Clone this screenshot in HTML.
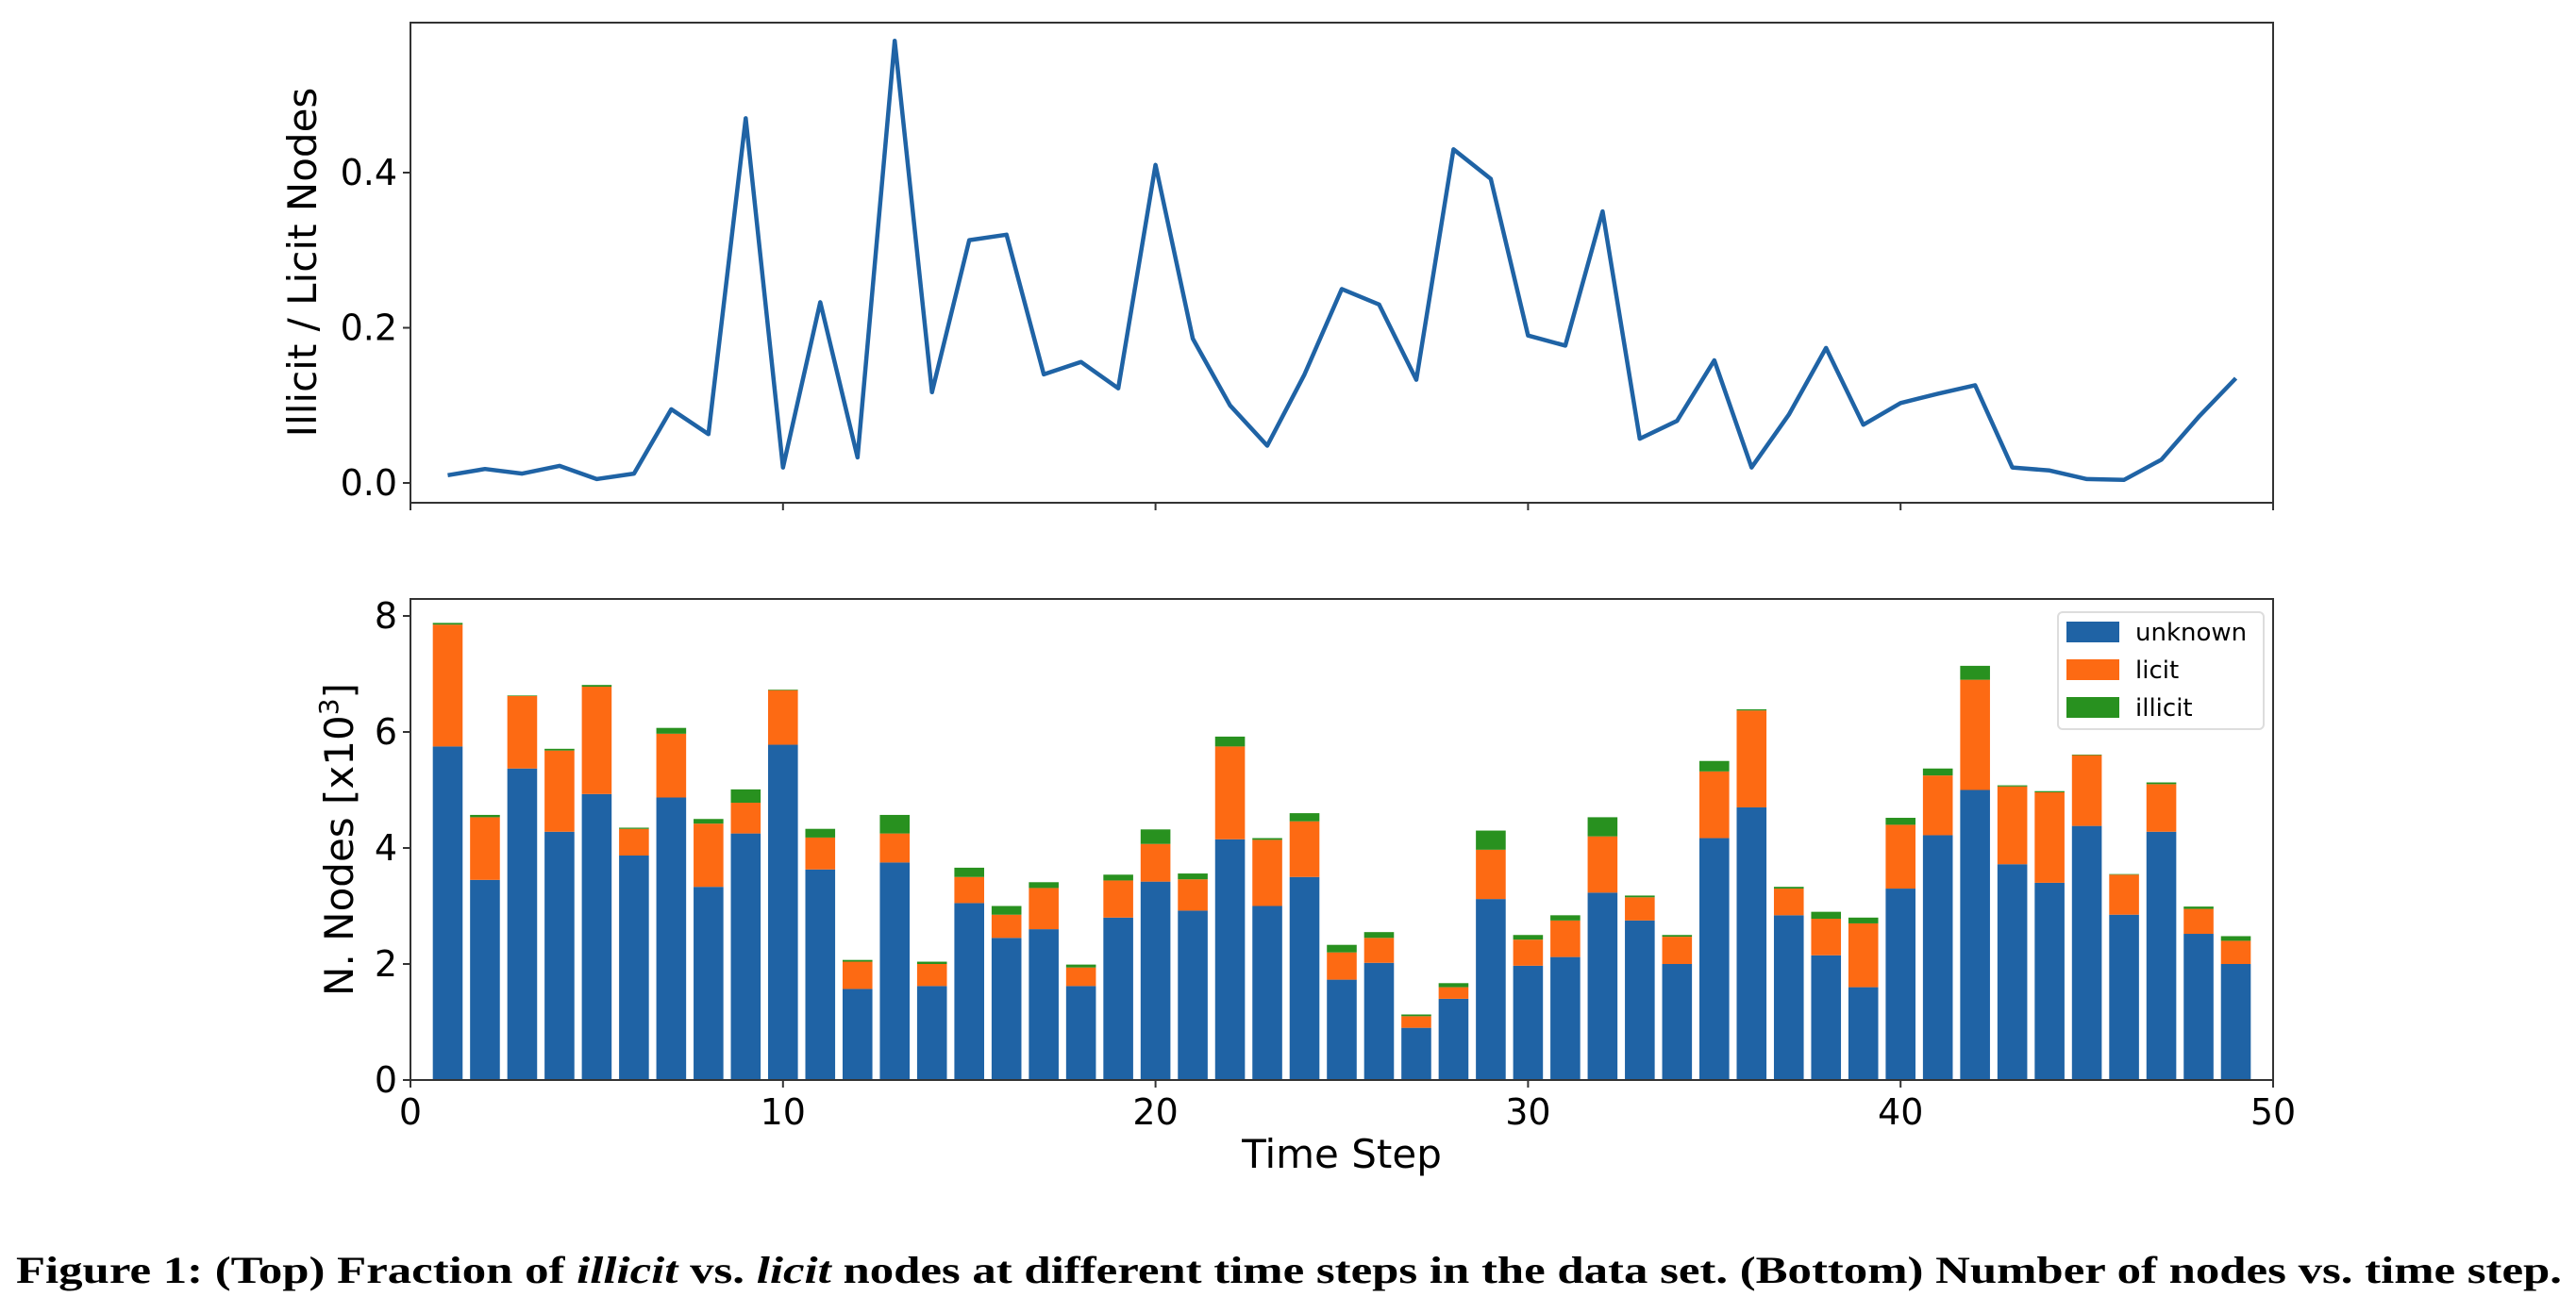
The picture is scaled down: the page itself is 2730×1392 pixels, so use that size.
<!DOCTYPE html>
<html><head><meta charset="utf-8"><style>
html,body{margin:0;padding:0;background:#fff}
svg{display:block}
text{font-family:"DejaVu Sans","Liberation Sans",sans-serif;fill:#000}
</style></head><body>
<svg id="fig" width="2730" height="1392" viewBox="0 0 2730 1392" xmlns="http://www.w3.org/2000/svg">
<g id="topchart"></g>
<g id="botchart"></g>
<text x="17" y="1360" textLength="2698" lengthAdjust="spacingAndGlyphs" style="font-family:'Liberation Serif',serif;font-weight:bold;font-size:40px">Figure 1: (Top) Fraction of <tspan font-style="italic">illicit</tspan> vs. <tspan font-style="italic">licit</tspan> nodes at different time steps in the data set. (Bottom) Number of nodes vs. time step.</text>
</svg>
<script>
const steps = [1,2,3,4,5,6,7,8,9,10,11,12,13,14,15,16,17,18,19,20,21,22,23,24,25,26,27,28,29,30,31,32,33,34,35,36,37,38,39,40,41,42,43,44,45,46,47,48,49];
const ratio = [0.01,0.018,0.012,0.022,0.005,0.012,0.095,0.063,0.47,0.02,0.233,0.033,0.57,0.117,0.313,0.32,0.14,0.156,0.122,0.41,0.186,0.1,0.048,0.14,0.25,0.23,0.133,0.43,0.392,0.19,0.177,0.35,0.057,0.08,0.158,0.02,0.088,0.174,0.075,0.103,0.115,0.126,0.02,0.016,0.005,0.004,0.03,0.085,0.135];
const unknown = [5.75,3.45,5.37,4.28,4.93,3.87,4.87,3.33,4.25,5.78,3.63,1.57,3.75,1.62,3.05,2.45,2.6,1.62,2.8,3.42,2.92,4.15,3.0,3.5,1.73,2.02,0.9,1.4,3.12,1.97,2.12,3.23,2.75,2.0,4.17,4.7,2.84,2.15,1.6,3.3,4.22,5.0,3.72,3.4,4.38,2.85,4.28,2.52,2.0];
const licit = [2.10,1.08,1.25,1.40,1.85,0.46,1.10,1.09,0.53,0.94,0.55,0.47,0.50,0.38,0.45,0.40,0.71,0.32,0.64,0.65,0.54,1.60,1.14,0.96,0.47,0.43,0.20,0.20,0.85,0.45,0.63,0.97,0.40,0.47,1.15,1.67,0.46,0.63,1.10,1.10,1.03,1.90,1.34,1.56,1.22,0.69,0.82,0.43,0.40];
const illicit = [0.03,0.04,0.01,0.03,0.03,0.02,0.10,0.08,0.23,0.01,0.15,0.03,0.32,0.04,0.16,0.15,0.10,0.05,0.10,0.25,0.10,0.17,0.03,0.14,0.13,0.10,0.03,0.07,0.33,0.08,0.09,0.33,0.03,0.03,0.18,0.02,0.03,0.12,0.10,0.12,0.12,0.24,0.02,0.02,0.01,0.01,0.03,0.04,0.08];
const xTicks = [0,10,20,30,40,50];
const topYTicks = [0.0,0.2,0.4];
const botYTicks = [0,2,4,6,8];

const NS="http://www.w3.org/2000/svg";
const L=435, R=2409;
const X = v => L + (R-L)*v/50;
const Y1 = v => 512 - v*(512-183)/0.4;
const Y2 = v => 1145 - v*61.5;
function mk(p,tag,attrs,txt){const e=document.createElementNS(NS,tag);for(const k in attrs)e.setAttribute(k,attrs[k]);if(txt!==undefined)e.textContent=txt;p.appendChild(e);return e;}
const topG=document.getElementById('topchart'), botG=document.getElementById('botchart');

let d='';
steps.forEach((s,i)=>{d+=(i?'L':'M')+X(s).toFixed(1)+','+Y1(ratio[i]).toFixed(1);});
const ln=mk(topG,'path',{d:d,fill:'none',stroke:'#1f63a5','stroke-width':4.5,'stroke-linejoin':'round'});


const f1=mk(topG,'rect',{x:L,y:24,width:R-L,height:509,fill:'none',stroke:'#333','stroke-width':2});


topYTicks.forEach(v=>{
  mk(topG,'line',{x1:L-8,x2:L,y1:Y1(v),y2:Y1(v),stroke:'#333','stroke-width':2});
  const t=mk(topG,'text',{x:L-14,y:Y1(v)+13,'text-anchor':'end','font-size':38},v.toFixed(1));
  
  
});
xTicks.forEach(v=>{mk(topG,'line',{x1:X(v),x2:X(v),y1:533,y2:541,stroke:'#333','stroke-width':2});});
const yl1=mk(topG,'text',{x:0,y:0,transform:'translate(335,278) rotate(-90)','text-anchor':'middle','font-size':42},'Illicit / Licit Nodes');



const bw=(R-L)/50*0.8;
steps.forEach((s,i)=>{
  const segs=[[0,unknown[i],'#1f63a5','bar-unknown'],[unknown[i],unknown[i]+licit[i],'#fd6a13','bar-licit'],[unknown[i]+licit[i],unknown[i]+licit[i]+illicit[i],'#28911f','bar-illicit']];
  segs.forEach(g=>{
    const r=mk(botG,'rect',{x:X(s)-bw/2,y:Y2(g[1]),width:bw,height:Math.max(0,Y2(g[0])-Y2(g[1])),fill:g[2]});
    
    
  });
});
const f2=mk(botG,'rect',{x:L,y:635,width:R-L,height:510,fill:'none',stroke:'#333','stroke-width':2});


botYTicks.forEach(v=>{
  mk(botG,'line',{x1:L-8,x2:L,y1:Y2(v),y2:Y2(v),stroke:'#333','stroke-width':2});
  const t=mk(botG,'text',{x:L-14,y:Y2(v)+13,'text-anchor':'end','font-size':38},String(v));
  
  
});
xTicks.forEach(v=>{
  mk(botG,'line',{x1:X(v),x2:X(v),y1:1145,y2:1153,stroke:'#333','stroke-width':2});
  const t=mk(botG,'text',{x:X(v),y:1192,'text-anchor':'middle','font-size':38},String(v));
  
  
});
const xl=mk(botG,'text',{x:1422,y:1238,'text-anchor':'middle','font-size':42},'Time Step');


const yl2=mk(botG,'text',{x:0,y:0,transform:'translate(374,890) rotate(-90)','text-anchor':'middle','font-size':42},'N. Nodes [x10');


mk(yl2,'tspan',{'font-size':28,dy:-16},'3');
mk(yl2,'tspan',{'font-size':42,dy:16},']');

const lg=mk(botG,'g',{});


mk(lg,'rect',{x:2181,y:649,width:218,height:124,rx:5,fill:'#fff',stroke:'#ddd','stroke-width':2});
[['unknown','#1f63a5'],['licit','#fd6a13'],['illicit','#28911f']].forEach((e,i)=>{
  const y=659+i*40;
  const g=mk(lg,'g',{});
  
  
  mk(g,'rect',{x:2190,y:y,width:56,height:22,fill:e[1]});
  mk(g,'text',{x:2263,y:y+20,'font-size':26},e[0]);
});
</script>
</body></html>
